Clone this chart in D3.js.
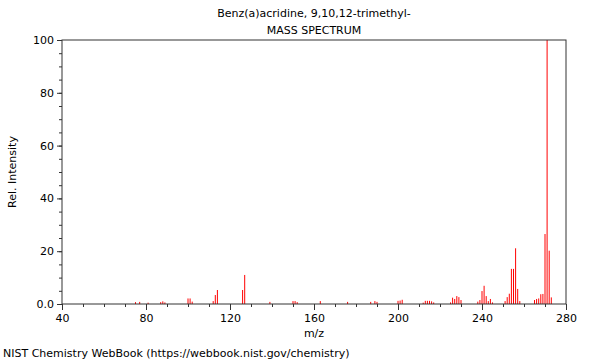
<!DOCTYPE html>
<html>
<head>
<meta charset="utf-8">
<script src="https://cdn.jsdelivr.net/npm/d3@7"></script>
<style>
  html, body { margin: 0; padding: 0; background: #fff; }
  svg { display: block; font-family: "DejaVu Sans", sans-serif; }
</style>
</head>
<body>
<svg id="chart" width="600" height="360"></svg>
<script>
const titleLines = ["Benz(a)acridine, 9,10,12-trimethyl-", "MASS SPECTRUM"];
const mz = [75,77,81,87,88,89,100,101,102,112,113,114,126,127,139,150,151,152,163,176,187,189,190,200,201,202,212,213,214,215,216,217,225,226,227,228,229,230,238,239,240,241,242,243,244,245,251,252,253,254,255,256,257,258,265,266,267,268,269,270,271,272,273];
const intensity = [0.7,0.8,0.5,0.7,1.0,0.6,2.1,2.1,0.9,1.1,3.4,5.3,5.3,11.0,0.8,1.1,1.1,0.7,1.1,0.8,0.8,1.1,0.8,1.2,1.3,1.6,0.5,1.2,1.2,1.2,1.0,0.6,0.6,2.4,1.9,3.0,2.6,1.5,0.9,1.5,4.9,6.9,3.0,1.1,1.9,0.6,1.1,2.6,3.9,13.3,13.3,21.1,5.7,1.1,1.5,1.9,2.1,3.7,3.8,26.5,100,20.2,2.5];
const xMajorTicks = [40,80,120,160,200,240,280];
const yMajorTicks = [0,20,40,60,80,100];
const yTickLabels = ["0.0","20","40","60","80","100"];
const xLabel = "m/z";
const yLabel = "Rel. Intensity";
const footer = "NIST Chemistry WebBook (https://webbook.nist.gov/chemistry)";

const svg = d3.select("#chart");
const L = 62, R = 566, T = 40, B = 304;
const x = d3.scaleLinear().domain([40, 280]).range([L, R]);
const y = d3.scaleLinear().domain([0, 100]).range([B, T]);
const axisColor = "#333";

// bars
svg.append("g").selectAll("line").data(mz).join("line")
  .attr("x1", d => x(d)).attr("x2", d => x(d))
  .attr("y1", y(0)).attr("y2", (d, i) => y(intensity[i]))
  .attr("stroke", "#ff0000").attr("stroke-width", 1);

// frame
svg.append("rect").attr("x", L).attr("y", T).attr("width", R - L).attr("height", B - T)
  .attr("fill", "none").attr("stroke", axisColor).attr("stroke-width", 1);

// x axis
const xMinor = d3.range(40, 281, 10);
const xAxis = d3.axisBottom(x).tickValues(xMinor).tickSize(3).tickFormat("");
svg.append("g").attr("transform", `translate(0,${B})`).call(xAxis)
  .call(g => g.select(".domain").remove())
  .call(g => g.selectAll("line").attr("stroke", axisColor));
const xAxisMajor = d3.axisBottom(x).tickValues(xMajorTicks).tickSize(6).tickPadding(4);
svg.append("g").attr("transform", `translate(0,${B})`).call(xAxisMajor)
  .call(g => g.select(".domain").remove())
  .call(g => g.selectAll("line").attr("stroke", axisColor))
  .call(g => g.selectAll("text").attr("fill", "#000").style("font-size", "11px").style("font-family", "DejaVu Sans"));

// y axis
const yMinor = d3.range(0, 101, 5);
const yAxis = d3.axisLeft(y).tickValues(yMinor).tickSize(3).tickFormat("");
svg.append("g").attr("transform", `translate(${L},0)`).call(yAxis)
  .call(g => g.select(".domain").remove())
  .call(g => g.selectAll("line").attr("stroke", axisColor));
const yAxisMajor = d3.axisLeft(y).tickValues(yMajorTicks).tickSize(5).tickPadding(3)
  .tickFormat((d, i) => yTickLabels[i]);
svg.append("g").attr("transform", `translate(${L},0)`).call(yAxisMajor)
  .call(g => g.select(".domain").remove())
  .call(g => g.selectAll("line").attr("stroke", axisColor))
  .call(g => g.selectAll("text").attr("fill", "#000").style("font-size", "11px").style("font-family", "DejaVu Sans"));

// titles
svg.append("g").selectAll("text").data(titleLines).join("text")
  .attr("x", (L + R) / 2).attr("y", (d, i) => 17 + i * 17)
  .attr("text-anchor", "middle").style("font-size", "11px").text(d => d);

svg.append("text").attr("x", (L + R) / 2).attr("y", 337)
  .attr("text-anchor", "middle").style("font-size", "11px").text(xLabel);

svg.append("text").attr("transform", `translate(16,${(T + B) / 2}) rotate(-90)`)
  .attr("text-anchor", "middle").style("font-size", "11px").text(yLabel);

svg.append("text").attr("x", 3).attr("y", 357).style("font-size", "11px").text(footer);
</script>
</body>
</html>
